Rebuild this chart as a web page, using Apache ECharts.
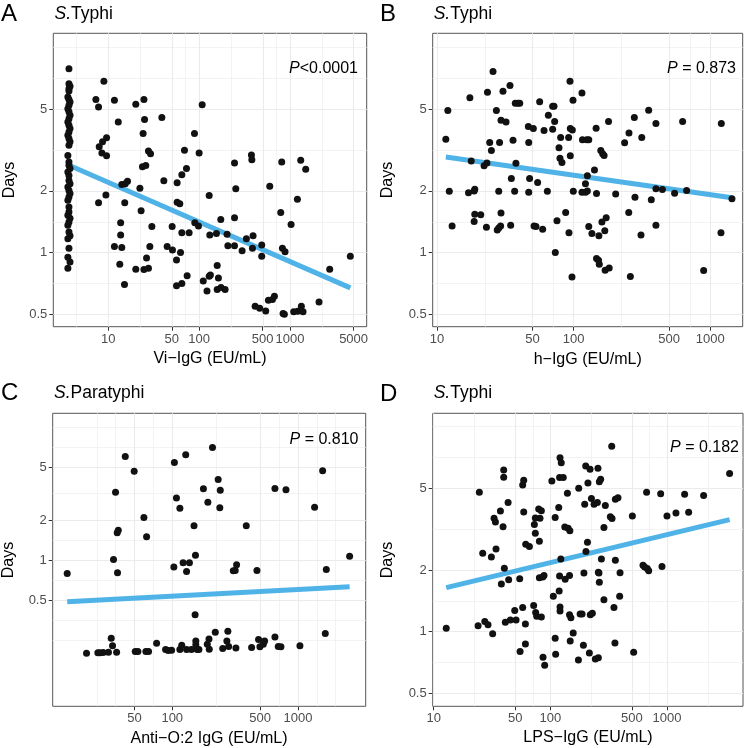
<!DOCTYPE html>
<html><head><meta charset="utf-8">
<script src="https://cdn.jsdelivr.net/npm/echarts@6/dist/echarts.min.js"></script>
<style>html,body{margin:0;padding:0;background:#fff}#c{width:744px;height:748px}</style>
</head><body><div id="c"></div>
<script>
// ---------- DATA (raw values, EU/mL vs Days) ----------
const yBreaks = [0.5, 1, 2, 5];
const xBreaksA = [10, 50, 100, 500, 1000, 5000];
const xBreaksB = [10, 50, 100, 500, 1000];
const xBreaksC = [50, 100, 500, 1000];
const xBreaksD = [10, 50, 100, 500, 1000];

// Panel A: Vi-IgG (values below detection plotted at ~3.7)
const pointsA_low = [[3.7,7.90],[3.7,6.67],[3.8,6.48],[3.7,6.31],[3.7,6.15],[3.6,5.74],[3.7,5.58],[3.8,5.43],[3.7,5.23],[3.6,5.04],[3.7,4.86],[3.8,4.68],[3.7,4.50],[3.6,4.34],[3.7,4.18],[3.8,4.03],[3.7,3.88],[3.6,3.74],[3.7,3.60],[3.8,3.47],[3.7,3.34],[3.6,2.98],[3.7,2.77],[3.7,2.67],[3.8,2.57],[3.6,2.47],[3.7,2.38],[3.7,2.25],[3.8,2.17],[3.6,2.09],[3.7,2.01],[3.8,1.94],[3.7,1.87],[3.6,1.80],[3.7,1.67],[3.7,1.58],[3.6,1.52],[3.8,1.47],[3.7,1.41],[3.6,1.36],[3.7,1.26],[3.8,1.21],[3.6,1.17],[3.7,1.05],[3.6,0.95],[3.8,0.90],[3.6,0.84]];
const pointsA = [[8.96,6.85],[7.32,5.58],[7.83,5.14],[11.7,5.54],[20.1,5.29],[24.7,5.58],[12.9,4.34],[25.1,4.46],[38.9,4.56],[108,5.27],[88.9,3.81],[24.2,3.81],[9.59,3.63],[8.66,3.47],[7.96,3.28],[8.52,3.06],[9.59,2.97],[27.7,3.13],[29.2,3.04],[69.0,3.16],[100,3.06],[72.6,2.57],[64.5,2.40],[23.8,2.62],[25.9,2.66],[40.9,2.24],[57.3,2.19],[16.3,2.23],[14.1,2.15],[15.4,2.17],[22.3,2.06],[9.43,1.91],[7.83,1.75],[15.2,1.75],[57.3,1.76],[61.3,1.73],[129,1.90],[23.0,1.60],[13.7,1.40],[30.2,1.34],[50.5,1.34],[13.7,1.22],[64.5,1.25],[77.6,1.25],[89.6,1.40],[98.3,1.35],[173,1.45],[131,1.22],[155,1.24],[203,1.23],[11.7,1.07],[14.1,1.06],[28.7,1.07],[44.5,1.07],[50.9,1.03],[62.4,1.00],[56.4,0.92],[26.4,0.94],[13.4,0.877],[20.1,0.83],[24.7,0.826],[27.7,0.839],[15.1,0.698],[56.4,0.69],[64.5,0.706],[73.8,0.772],[111,0.727],[122,0.65],[129,0.767],[133,0.778],[158,0.864],[163,0.752],[158,0.66],[174,0.675],[193,0.66],[207,1.08],[245,1.08],[297,1.02],[245,2.74],[253,2.05],[245,1.48],[331,1.17],[392,1.21],[386,1.05],[376,2.99],[380,2.84],[598,2.11],[488,1.09],[488,0.96],[810,2.77],[1310,2.82],[1487,2.55],[1204,1.82],[790,1.57],[1026,1.37],[824,1.05],[881,1.01],[413,0.547],[464,0.535],[540,0.519],[578,0.586],[640,0.59],[673,0.612],[838,0.504],[866,0.50],[1097,0.514],[1214,0.517],[1332,0.547],[1390,0.514],[2083,0.574],[2729,0.83],[4603,0.96]];
const fitA = [[3.7,2.67],[4603,0.673]];

// Panel B: h-IgG
const pointsB = [[11.6,3.57],[12.0,4.93],[12.3,1.99],[12.9,1.35],[17.4,5.70],[17.8,2.80],[17.0,1.96],[18.7,2.00],[18.9,2.04],[18.9,1.54],[18.7,1.42],[20.9,1.53],[23.0,1.33],[22.1,2.65],[23.2,2.74],[23.4,6.06],[24.3,3.45],[25.0,3.15],[25.7,7.66],[27.2,4.93],[27.6,1.29],[28.3,1.32],[28.7,3.45],[28.3,1.99],[29.4,1.56],[29.4,4.42],[29.2,1.35],[30.4,6.12],[32.0,4.34],[34.2,6.53],[34.6,1.36],[35.0,2.30],[36.0,3.53],[37.0,1.99],[37.8,2.73],[37.4,5.35],[39.1,5.35],[40.3,5.35],[46.6,4.12],[46.9,3.45],[46.9,1.97],[47.6,2.30],[50.7,4.03],[51.3,1.35],[53.0,1.34],[54.5,2.20],[56.4,5.45],[59.3,1.30],[60.7,3.94],[64.2,1.99],[65.3,4.68],[70.2,5.17],[71.8,5.17],[70.2,4.00],[72.6,4.36],[73.4,1.00],[75.5,1.43],[78.1,3.25],[79.4,2.89],[80.3,3.64],[82.1,2.75],[87.4,1.57],[91.9,3.64],[92.4,1.25],[94.0,6.85],[94.5,2.97],[94.5,4.03],[97.2,0.761],[98.9,5.54],[97.8,3.97],[99.4,1.99],[115,6.01],[115,1.97],[116,3.55],[122,1.97],[122,2.17],[125,3.55],[126,2.00],[126,2.37],[129,3.55],[129,1.34],[136,1.24],[142,2.53],[146,4.04],[147,1.94],[147,0.935],[152,0.917],[153,1.21],[154,0.877],[158,3.15],[161,1.41],[163,3.04],[167,2.98],[169,1.28],[170,0.82],[173,1.48],[180,4.36],[182,0.842],[203,1.93],[236,3.44],[254,3.83],[253,1.57],[260,0.764],[278,4.56],[281,1.86],[311,1.22],[315,3.64],[354,4.95],[370,1.81],[400,4.26],[400,2.05],[400,1.36],[446,2.03],[548,1.95],[627,4.36],[671,2.01],[894,0.817],[1204,4.26],[1197,1.25],[1440,1.83]];
const fitB = [[11.6,2.93],[1440,1.85]];

// Panel C: Anti-O:2 IgG (S. Paratyphi)
const pointsC = [[14.6,0.794],[20.8,0.200],[25.6,0.202],[26.6,0.202],[28.2,0.203],[31.1,0.204],[32.7,0.260],[33.5,0.228],[36.1,0.204],[34.1,1.01],[35.4,3.24],[36.5,1.61],[37.2,1.68],[36.7,0.804],[42.3,5.99],[49.8,4.65],[50.8,0.207],[53.3,0.207],[59.5,2.09],[62.5,1.50],[61.7,0.207],[64.8,0.207],[75.1,0.238],[88.5,0.214],[92.9,0.210],[98.8,0.211],[104,5.40],[103,0.891],[108,2.93],[115,2.45],[115,0.214],[119,0.230],[122,0.955],[128,6.17],[130,0.822],[130,0.214],[137,0.955],[142,0.214],[149,1.81],[152,0.389],[153,1.09],[154,0.248],[158,0.214],[163,0.214],[154,0.232],[177,3.43],[192,2.72],[196,0.256],[197,0.215],[190,0.234],[209,7.00],[220,0.288],[232,4.03],[241,3.35],[239,2.47],[252,0.218],[277,0.293],[272,0.248],[281,0.225],[321,0.219],[306,0.832],[325,0.923],[317,0.837],[388,1.81],[428,0.221],[472,0.837],[486,0.254],[498,0.224],[530,0.234],[543,0.248],[656,3.45],[656,0.265],[697,0.225],[732,0.224],[803,3.37],[1037,0.228],[1357,2.50],[1572,4.68],[1650,0.282],[1681,0.851],[2577,1.07]];
const fitC = [[14.6,0.487],[2577,0.631]];

// Panel D: LPS-IgG
const pointsD = [[12.8,1.04],[24.0,1.07],[24.6,4.78],[26.3,2.41],[27.4,1.12],[29.2,1.08],[31.2,2.31],[32.0,0.978],[32.9,3.57],[33.8,3.43],[34.2,2.53],[37.3,3.88],[38.0,1.71],[39.3,3.25],[39.8,6.15],[39.8,5.66],[40.3,2.04],[41.1,1.11],[43.4,4.26],[43.9,1.79],[45.4,1.14],[49.5,1.27],[50.8,1.14],[55.0,0.80],[54.6,1.81],[57.9,1.31],[57.9,5.19],[59.1,5.47],[59.1,3.83],[61.1,1.09],[61.1,0.871],[61.5,2.67],[66.1,2.60],[71.9,1.34],[72.9,3.33],[74.3,3.58],[74.8,1.24],[74.3,3.02],[76.4,1.19],[79.4,3.97],[81.5,3.57],[80.5,2.76],[80.5,1.83],[83.7,3.89],[83.7,1.18],[86.5,0.75],[86.0,1.85],[88.2,1.88],[89.4,0.685],[103,5.43],[106,1.49],[110,3.60],[110,0.928],[111,0.775],[118,4.03],[119,1.58],[120,5.64],[120,1.87],[121,7.06],[124,6.67],[121,1.32],[121,1.26],[123,2.26],[129,5.64],[133,3.24],[134,1.80],[140,4.73],[142,3.19],[146,1.88],[147,3.11],[146,1.21],[148,0.90],[150,1.17],[157,0.985],[174,0.727],[175,5.00],[180,1.22],[187,1.22],[192,0.858],[194,1.93],[197,4.18],[201,6.43],[202,2.46],[208,2.73],[210,5.31],[216,0.787],[219,6.19],[220,1.21],[225,4.46],[229,1.23],[237,4.18],[243,0.736],[253,4.27],[256,6.26],[258,0.747],[258,1.95],[261,1.93],[263,1.74],[263,5.39],[270,5.54],[274,2.26],[288,3.22],[288,1.43],[296,4.12],[327,3.63],[338,3.56],[336,8.02],[351,1.31],[361,2.23],[358,0.88],[361,4.42],[380,4.50],[393,1.49],[396,1.94],[505,3.67],[518,0.793],[623,2.11],[644,2.07],[669,4.78],[678,2.03],[697,1.98],[883,4.71],[906,2.08],[1000,3.67],[1194,3.79],[1417,4.68],[1534,3.82],[2062,4.61],[3444,5.90]];
const fitD = [[12.8,1.64],[3444,3.52]];

const pValues = ['<0.0001', ' = 0.873', ' = 0.810', ' = 0.182'];
const organisms = ['Typhi', 'Typhi', 'Paratyphi', 'Typhi'];
const xTitles = ['Vi\u2212IgG (EU/mL)', 'h\u2212IgG (EU/mL)', 'Anti\u2212O:2 IgG (EU/mL)', 'LPS\u2212IgG (EU/mL)'];
const letters = ['A', 'B', 'C', 'D'];

// ---------- LAYOUT / STYLE ----------
const FONT = '"Liberation Sans", Arial, Helvetica, sans-serif';
const BLUE = '#4fb3e8';
const L = Math.log10;
const panels = [
  {pts: pointsA_low.concat(pointsA), fit: fitA, xb: xBreaksA, rect: [53.3, 33.3, 313.4, 293.4], xlim: [0.396, 3.843], ylim: [-0.3615, 1.070],
   letter: [1, 14.5], title: [54.5, 14], p: [358, 68.3], xname: [210, 359], yname: [10, 180]},
  {pts: pointsB, fit: fitB, xb: xBreaksB, rect: [432.7, 33.3, 310, 293.4], xlim: [0.9685, 3.237], ylim: [-0.3615, 1.070],
   letter: [380, 14.5], title: [433.7, 14], p: [736, 68.3], xname: [587.7, 360], yname: [388, 180]},
  {pts: pointsC, fit: fitC, xb: xBreaksC, rect: [52.7, 413.3, 313, 293], xlim: [1.049, 3.539], ylim: [-1.096, 1.102],
   letter: [1, 393], title: [54, 393.5], p: [358.5, 439.5], xname: [209, 739], yname: [9, 560]},
  {pts: pointsD, fit: fitD, xb: xBreaksD, rect: [432.7, 413.3, 310.3, 293], xlim: [0.991, 3.652], ylim: [-0.364, 1.065],
   letter: [380, 394], title: [433.7, 393.5], p: [739, 447.3], xname: [588, 738], yname: [388, 560]}
];

// ggplot2-style minor breaks (midpoints in transformed space)
function minorBreaks(b, lim) {
  b = b.filter(v => v >= lim[0] && v <= lim[1]);
  const bd = b[1] - b[0];
  if (lim[0] < b[0]) b = [b[0] - bd].concat(b);
  if (lim[1] > b[b.length - 1]) b = b.concat([b[b.length - 1] + bd]);
  const out = [];
  for (let i = 0; i < b.length - 1; i++) out.push(b[i], (b[i] + b[i + 1]) / 2);
  out.push(b[b.length - 1]);
  return out.filter(v => v >= lim[0] && v <= lim[1]);
}
function labelFor(v, br) {
  for (const b of br) if (Math.abs(L(b) - v) < 1e-6) return String(b);
  return '';
}

const grids = [], xAxes = [], yAxes = [], series = [], graphics = [];
panels.forEach((p, i) => {
  grids.push({left: p.rect[0], top: p.rect[1], width: p.rect[2], height: p.rect[3], show: true,
    borderColor: '#555', borderWidth: 1, backgroundColor: '#fff', containLabel: false, outerBoundsMode: 'none'});
  const xl = p.xb.map(L), yl = yBreaks.map(L);
  const labelStyle = {fontSize: 13, color: '#4d4d4d', fontFamily: FONT, hideOverlap: false};
  xAxes.push({type: 'value', gridIndex: i, min: p.xlim[0], max: p.xlim[1],
    axisLine: {show: false, onZero: false}, splitLine: {show: false},
    axisTick: {show: true, customValues: xl, length: 4, lineStyle: {color: '#333', width: 1}},
    axisLabel: Object.assign({customValues: xl, margin: 6, formatter: v => labelFor(v, p.xb)}, labelStyle)});
  yAxes.push({type: 'value', gridIndex: i, min: p.ylim[0], max: p.ylim[1],
    axisLine: {show: false, onZero: false}, splitLine: {show: false},
    axisTick: {show: true, customValues: yl, length: 4, lineStyle: {color: '#333', width: 1}},
    axisLabel: Object.assign({customValues: yl, margin: 6, formatter: v => labelFor(v, yBreaks)}, labelStyle)});

  const isMaj = (arr, v) => arr.some(b => Math.abs(b - v) < 1e-9);
  const gl = [];
  minorBreaks(xl, p.xlim).filter(v => !isMaj(xl, v)).forEach(v => gl.push({xAxis: v, lineStyle: {color: '#f0f0f0', width: 0.8, type: 'solid'}}));
  minorBreaks(yl, p.ylim).filter(v => !isMaj(yl, v)).forEach(v => gl.push({yAxis: v, lineStyle: {color: '#f0f0f0', width: 0.8, type: 'solid'}}));
  xl.filter(v => v >= p.xlim[0] && v <= p.xlim[1]).forEach(v => gl.push({xAxis: v, lineStyle: {color: '#ebebeb', width: 1.1, type: 'solid'}}));
  yl.filter(v => v >= p.ylim[0] && v <= p.ylim[1]).forEach(v => gl.push({yAxis: v, lineStyle: {color: '#ebebeb', width: 1.1, type: 'solid'}}));
  series.push({type: 'line', xAxisIndex: i, yAxisIndex: i, data: [], z: 1, silent: true,
    markLine: {z: 1, silent: true, symbol: ['none', 'none'], label: {show: false}, animation: false,
      lineStyle: {type: 'solid'}, emphasis: {disabled: true}, data: gl}});
  series.push({type: 'line', xAxisIndex: i, yAxisIndex: i, z: 8, silent: true, showSymbol: false,
    data: p.fit.map(d => [L(d[0]), L(d[1])]), lineStyle: {color: BLUE, width: 5, cap: 'butt'}});
  series.push({type: 'scatter', xAxisIndex: i, yAxisIndex: i, z: 10, silent: true, symbol: 'circle', symbolSize: 7,
    data: p.pts.map(d => [L(d[0]), L(d[1])]), itemStyle: {color: '#111', opacity: 1}});

  graphics.push({type: 'text', x: p.letter[0], y: p.letter[1], z: 100, silent: true,
    style: {text: letters[i], fontSize: 24, fontFamily: FONT, fill: '#000', align: 'left', verticalAlign: 'middle'}});
  graphics.push({type: 'text', x: p.title[0], y: p.title[1], z: 100, silent: true,
    style: {text: '{i|S.}{n|' + organisms[i] + '}', fontSize: 17.5, fontFamily: FONT, fill: '#000', align: 'left', verticalAlign: 'middle',
      rich: {i: {fontStyle: 'italic', fontSize: 17.5, fontFamily: FONT, fill: '#000'}, n: {fontSize: 17.5, fontFamily: FONT, fill: '#000'}}}});
  graphics.push({type: 'text', x: p.p[0], y: p.p[1], z: 100, silent: true,
    style: {text: '{i|P}{n|' + pValues[i] + '}', fontSize: 16, fontFamily: FONT, fill: '#000', align: 'right', verticalAlign: 'middle',
      rich: {i: {fontStyle: 'italic', fontSize: 16, fontFamily: FONT, fill: '#000'}, n: {fontSize: 16, fontFamily: FONT, fill: '#000'}}}});
  graphics.push({type: 'text', x: p.xname[0], y: p.xname[1], z: 100, silent: true,
    style: {text: xTitles[i], fontSize: 16, fontFamily: FONT, fill: '#000', align: 'center', verticalAlign: 'middle'}});
  graphics.push({type: 'text', x: p.yname[0], y: p.yname[1], z: 100, rotation: Math.PI / 2, silent: true,
    style: {text: 'Days', fontSize: 16, fontFamily: FONT, fill: '#000', align: 'center', verticalAlign: 'middle'}});
});

const chart = echarts.init(document.getElementById('c'), null, {renderer: 'canvas', width: 744, height: 748});
chart.setOption({
  animation: false,
  backgroundColor: '#fff',
  grid: grids, xAxis: xAxes, yAxis: yAxes, series: series, graphic: graphics
});
</script>
</body></html>
